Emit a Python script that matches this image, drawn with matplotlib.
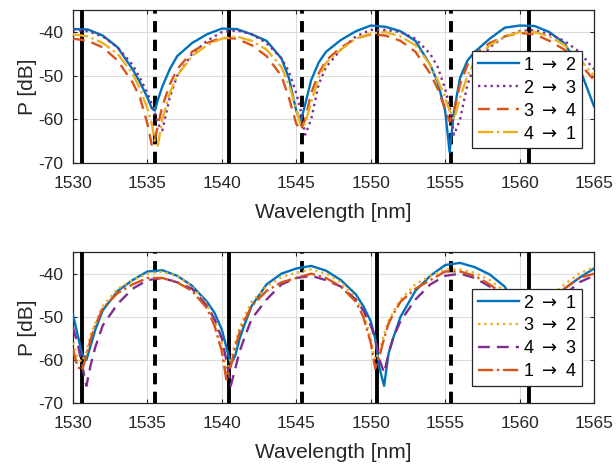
import matplotlib
matplotlib.use("Agg")
import matplotlib.pyplot as plt

plt.rcParams['font.family'] = ['Liberation Sans', 'DejaVu Sans']
plt.rcParams['mathtext.fontset'] = 'dejavusans'
plt.rcParams['axes.unicode_minus'] = False

# channel grid markers
solid_lines = [1530.6, 1540.5, 1550.45, 1560.6]
dashed_lines = [1535.5, 1545.4, 1555.4]

# ---- top panel ----
wl_top = [1530, 1531, 1532, 1533, 1534, 1534.5, 1535, 1535.3, 1535.5, 1535.7,
          1536, 1536.5, 1537, 1538, 1539, 1540, 1541, 1542, 1543, 1544,
          1544.5, 1545, 1545.3, 1545.6, 1546, 1546.5, 1547, 1548, 1549, 1550,
          1551, 1552, 1553, 1554, 1554.5, 1555, 1555.3, 1555.6, 1556, 1556.5,
          1557, 1558, 1559, 1560, 1561, 1562, 1563, 1564, 1565]
p_12 = [-39.3, -39.4, -40.8, -43.5, -48.5, -51.5, -55.0, -57.5, -58.0, -55.5,
        -52.5, -48.5, -45.5, -42.5, -40.5, -39.2, -39.3, -40.5, -42.0, -46.0,
        -50.5, -58.0, -60.5, -56.5, -51.0, -47.0, -44.5, -41.8, -39.8, -38.5,
        -38.8, -39.8, -42.0, -47.5, -51.5, -58.0, -67.5, -58.0, -50.5, -46.5,
        -44.5, -41.5, -39.0, -38.5, -38.6, -40.0, -42.5, -48.0, -57.0]
p_23 = [-39.5, -39.8, -41.0, -43.5, -47.5, -50.5, -54.0, -56.5, -58.5, -61.0,
        -62.5, -55.0, -50.0, -45.0, -42.0, -40.0, -39.6, -40.5, -42.5, -46.0,
        -49.0, -54.0, -58.0, -63.5, -60.0, -52.0, -48.0, -44.0, -41.0, -39.5,
        -39.5, -40.0, -41.5, -45.0, -48.0, -53.0, -57.0, -63.5, -60.0, -52.0,
        -47.5, -43.5, -41.0, -39.8, -39.5, -40.5, -42.0, -44.5, -48.5]
p_34 = [-41.5, -42.0, -43.5, -46.5, -51.5, -55.0, -61.0, -66.0, -64.5, -61.5,
        -57.0, -52.0, -48.5, -44.5, -42.5, -41.3, -41.5, -43.0, -45.5, -50.0,
        -55.0, -61.0, -62.5, -60.0, -54.0, -49.5, -46.5, -43.5, -41.5, -40.5,
        -40.8, -42.0, -44.5, -49.5, -53.0, -57.5, -60.5, -58.0, -52.0, -47.5,
        -45.0, -42.5, -41.0, -40.2, -40.5, -42.0, -44.0, -47.0, -51.0]
p_41 = [-40.5, -41.0, -42.5, -45.0, -49.5, -53.0, -57.5, -61.0, -65.0, -66.0,
        -60.0, -54.0, -50.0, -45.5, -43.0, -41.5, -41.0, -42.0, -44.0, -48.0,
        -52.0, -57.5, -61.5, -61.0, -56.0, -50.5, -47.0, -44.0, -41.5, -40.3,
        -40.0, -41.0, -43.0, -47.5, -51.0, -55.0, -58.0, -60.0, -55.0, -50.0,
        -46.5, -43.0, -41.0, -40.0, -40.0, -41.0, -43.0, -46.0, -50.0]

# ---- bottom panel ----
wl_bot = [1530, 1530.3, 1530.6, 1530.9, 1531.2, 1531.5, 1532, 1533, 1534, 1535,
          1536, 1537, 1538, 1539, 1539.5, 1540, 1540.3, 1540.6, 1540.9, 1541.2,
          1541.5, 1542, 1543, 1544, 1545, 1546, 1547, 1548, 1549, 1549.5,
          1550, 1550.3, 1550.6, 1550.9, 1551.2, 1551.5, 1552, 1553, 1554, 1555,
          1556, 1557, 1558, 1559, 1559.5, 1560, 1560.3, 1560.6, 1560.9, 1561.2,
          1561.5, 1562, 1563, 1564, 1565]
p_21 = [-49.5, -54.0, -58.5, -60.0, -56.5, -53.0, -48.5, -44.0, -41.5, -39.5,
        -39.2, -40.5, -42.8, -46.5, -49.0, -53.0, -57.0, -61.0, -59.0, -55.0,
        -52.0, -47.5, -42.5, -40.0, -38.8, -38.2, -39.3, -41.5, -44.8, -47.5,
        -51.0, -55.0, -62.0, -66.0, -58.5, -55.0, -50.0, -44.0, -40.5, -38.0,
        -37.5, -38.5, -40.2, -43.0, -46.0, -50.0, -55.0, -60.0, -58.0, -54.0,
        -51.0, -48.0, -43.5, -41.0, -38.8]
p_32 = [-56.0, -59.5, -60.5, -58.0, -54.0, -51.5, -47.5, -43.5, -41.5, -40.0,
        -39.5, -40.5, -43.0, -47.0, -50.5, -56.0, -63.0, -60.0, -56.0, -52.5,
        -50.0, -46.5, -43.0, -40.8, -39.8, -39.0, -40.0, -42.0, -45.5, -49.0,
        -55.0, -60.0, -58.0, -54.0, -51.0, -49.0, -46.0, -42.5, -40.5, -39.0,
        -39.0, -39.8, -41.5, -44.0, -47.0, -53.0, -59.0, -57.0, -53.5, -50.5,
        -48.5, -45.5, -42.5, -40.0, -38.5]
p_43 = [-52.5, -56.0, -61.0, -66.0, -61.0, -57.0, -52.0, -47.0, -43.5, -41.5,
        -41.0, -42.0, -43.5, -47.5, -50.5, -55.0, -60.0, -66.0, -62.0, -58.0,
        -55.0, -50.5, -46.0, -42.5, -41.0, -40.5, -41.5, -43.0, -46.0, -48.5,
        -52.0, -55.0, -60.0, -63.0, -58.5, -55.0, -51.0, -46.0, -42.5, -40.5,
        -40.0, -41.0, -43.0, -45.5, -48.0, -52.0, -57.0, -62.0, -60.0, -56.0,
        -53.0, -49.5, -45.0, -42.0, -40.5]
p_14 = [-57.5, -61.5, -62.5, -59.0, -55.0, -52.0, -48.0, -44.5, -42.5, -41.0,
        -41.0, -42.0, -44.0, -48.0, -52.0, -58.0, -64.5, -61.5, -57.0, -53.5,
        -51.0, -47.5, -44.0, -42.0, -41.0, -40.0, -41.0, -43.0, -46.5, -50.0,
        -56.0, -62.0, -59.0, -55.0, -51.5, -49.5, -46.5, -43.5, -41.5, -39.5,
        -39.5, -40.5, -42.5, -45.0, -48.0, -54.0, -60.0, -58.0, -54.5, -51.5,
        -49.5, -46.5, -43.5, -41.0, -40.0]

BLUE = '#0072BD'
ORANGE = '#D95319'
YELLOW = '#EDB120'
PURPLE = '#7E2F8E'
TXT = '#262626'

top_series = [
    (p_12, BLUE, '-', '1 $\\to$ 2'),
    (p_23, PURPLE, ':', '2 $\\to$ 3'),
    (p_34, ORANGE, (0, (5, 3)), '3 $\\to$ 4'),
    (p_41, YELLOW, '-.', '4 $\\to$ 1'),
]
bot_series = [
    (p_21, BLUE, '-', '2 $\\to$ 1'),
    (p_32, YELLOW, ':', '3 $\\to$ 2'),
    (p_43, PURPLE, (0, (5, 3)), '4 $\\to$ 3'),
    (p_14, ORANGE, '-.', '1 $\\to$ 4'),
]

fig = plt.figure(figsize=(6.16, 4.66), dpi=100)
ax1 = fig.add_axes([0.1185, 0.650, 0.8458, 0.328])
ax2 = fig.add_axes([0.1185, 0.135, 0.8458, 0.324])


def draw_panel(ax, wl, series, legend_anchor):
    for x in solid_lines:
        ax.axvline(x, color='black', lw=2.8, zorder=3)
    for x in dashed_lines:
        ax.axvline(x, color='black', lw=2.8, linestyle=(0, (2.9, 1.9)), zorder=3)
    for vals, col, ls, lab in series:
        ax.plot(wl, vals, color=col, linestyle=ls, lw=1.7, label=lab, zorder=4)
    ax.set_xlim(1530, 1565)
    ax.set_ylim(-70, -35)
    ax.set_xticks([1530, 1535, 1540, 1545, 1550, 1555, 1560, 1565])
    ax.set_yticks([-70, -60, -50, -40])
    ax.grid(True, color='#dcdcdc', lw=0.8)
    ax.set_axisbelow(True)
    ax.tick_params(direction='in', length=3, labelsize=12.5, colors=TXT,
                   top=True, right=True)
    ax.tick_params(axis='x', pad=9)
    ax.tick_params(axis='y', pad=7)
    for s in ax.spines.values():
        s.set_color(TXT)
        s.set_linewidth(0.9)
    ax.set_xlabel('Wavelength [nm]', fontsize=15, color=TXT, labelpad=9)
    ax.set_ylabel('P [dB]', fontsize=15, color=TXT, labelpad=1)
    leg = ax.legend(loc='upper left', bbox_to_anchor=legend_anchor, fontsize=13,
                    handlelength=2.3, handletextpad=0.2, labelspacing=0.33,
                    borderpad=0.3, borderaxespad=0, fancybox=False, framealpha=1,
                    edgecolor=TXT)
    leg.get_frame().set_linewidth(0.9)
    leg.set_zorder(10)


draw_panel(ax1, wl_top, top_series, (0.766, 0.732))
draw_panel(ax2, wl_bot, bot_series, (0.766, 0.755))

fig.savefig('out.png', dpi=100)
